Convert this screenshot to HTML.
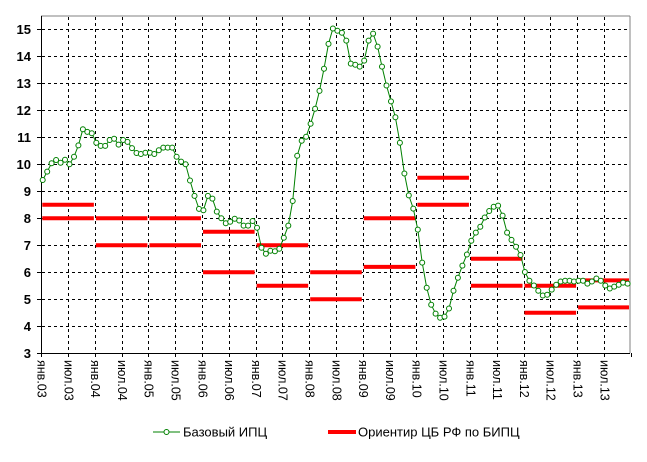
<!DOCTYPE html>
<html><head><meta charset="utf-8"><style>
body{margin:0;background:#fff;}
svg{display:block;font-family:"Liberation Sans",Arial,sans-serif;}
</style></head><body>
<svg id="s" width="647" height="462" viewBox="0 0 647 462" xmlns="http://www.w3.org/2000/svg">
<rect width="647" height="462" fill="#fff"/>
<g id="grid" stroke="#000" stroke-width="1" stroke-dasharray="3,3"></g>
<line x1="41" y1="16" x2="630" y2="16" stroke="#808080"/>
<line x1="630" y1="16" x2="630" y2="353" stroke="#808080"/>
<line x1="41.5" y1="16" x2="41.5" y2="354" stroke="#000"/>
<line x1="41" y1="353.5" x2="630" y2="353.5" stroke="#000"/>
<g id="ticks" stroke="#000"></g>
<g font-size="13" font-weight="bold" text-anchor="end" fill="#000">
<text x="31" y="34">15</text><text x="31" y="61">14</text><text x="31" y="88">13</text>
<text x="31" y="115">12</text><text x="31" y="142">11</text><text x="31" y="169">10</text>
<text x="31" y="196">9</text><text x="31" y="223">8</text><text x="31" y="250">7</text>
<text x="31" y="277">6</text><text x="31" y="304">5</text><text x="31" y="331">4</text>
<text x="31" y="358">3</text>
</g>
<g id="xl" font-size="12.5" fill="#000">
<text transform="translate(37.5,360) rotate(90)">янв.03</text>
<text transform="translate(64.3,360) rotate(90)">июл.03</text>
<text transform="translate(91.1,360) rotate(90)">янв.04</text>
<text transform="translate(117.9,360) rotate(90)">июл.04</text>
<text transform="translate(144.7,360) rotate(90)">янв.05</text>
<text transform="translate(171.5,360) rotate(90)">июл.05</text>
<text transform="translate(198.3,360) rotate(90)">янв.06</text>
<text transform="translate(225.1,360) rotate(90)">июл.06</text>
<text transform="translate(251.9,360) rotate(90)">янв.07</text>
<text transform="translate(278.7,360) rotate(90)">июл.07</text>
<text transform="translate(305.5,360) rotate(90)">янв.08</text>
<text transform="translate(332.3,360) rotate(90)">июл.08</text>
<text transform="translate(359.1,360) rotate(90)">янв.09</text>
<text transform="translate(385.9,360) rotate(90)">июл.09</text>
<text transform="translate(412.7,360) rotate(90)">янв.10</text>
<text transform="translate(439.5,360) rotate(90)">июл.10</text>
<text transform="translate(466.3,360) rotate(90)">янв.11</text>
<text transform="translate(493.1,360) rotate(90)">июл.11</text>
<text transform="translate(519.9,360) rotate(90)">янв.12</text>
<text transform="translate(546.7,360) rotate(90)">июл.12</text>
<text transform="translate(573.5,360) rotate(90)">янв.13</text>
<text transform="translate(600.3,360) rotate(90)">июл.13</text>
</g>
<g id="red" stroke="#ff0000" stroke-width="4"></g>
<polyline id="gl" fill="none" stroke="#008000" stroke-width="1"/>
<g id="mk" fill="#fff" stroke="#008000" stroke-width="1"></g>
<line x1="153" y1="432" x2="180" y2="432" stroke="#008000"/>
<circle cx="166.5" cy="432" r="2.5" fill="#fff" stroke="#008000"/>
<text x="183" y="436.5" font-size="13">Базовый ИПЦ</text>
<line x1="328" y1="432" x2="356" y2="432" stroke="#ff0000" stroke-width="4"/>
<text x="358" y="436.5" font-size="13">Ориентир ЦБ РФ по БИПЦ</text>
</svg>
<script>
var NS="http://www.w3.org/2000/svg";
function el(p,t,a){var e=document.createElementNS(NS,t);for(var k in a)e.setAttribute(k,a[k]);document.getElementById(p).appendChild(e);return e;}
function Y(v){return 353.3-27*(v-3);}
var mw=4.465,x0=41.3;
for(var v=4;v<=15;v++)el("grid","line",{x1:42,x2:630,y1:Math.round(Y(v))+0.5,y2:Math.round(Y(v))+0.5});
for(var h=1;h<22;h++){var x=Math.round(x0+h*6*mw)+0.5;el("grid","line",{x1:x,x2:x,y1:17,y2:353});}
for(var h=0;h<=22;h++){var x=Math.round(x0+h*6*mw)+0.5;el("ticks","line",{x1:x,x2:x,y1:353,y2:357});}
for(var v=3;v<=15;v++){var y=Math.round(Y(v))+0.5;el("ticks","line",{x1:37,x2:41,y1:y,y2:y});}
var R=[[8.5,8],[8,7],[8,7],[7.5,6],[7,5.5],[6,5],[8,6.2],[9.5,8.5],[6.5,5.5],[5.5,4.5],[5.7,4.7]];
R.forEach(function(r,k){var a=x0+k*12*mw+1,b=x0+(k+1)*12*mw-1;if(b>629)b=629;r.forEach(function(v){el("red","line",{x1:a,x2:b,y1:Y(v),y2:Y(v)});});});
var D=[9.42,9.73,10.04,10.16,10.06,10.17,10.0,10.28,10.7,11.3,11.2,11.15,
10.8,10.68,10.68,10.9,10.95,10.73,10.9,10.83,10.6,10.42,10.38,10.43,
10.43,10.38,10.52,10.62,10.62,10.62,10.28,10.1,10.0,9.4,8.83,8.35,
8.3,8.83,8.73,8.25,8.0,7.82,7.87,7.98,7.92,7.73,7.73,7.9,
7.65,6.91,6.69,6.8,6.78,6.87,7.28,7.73,8.64,10.32,10.87,11.02,
11.5,12.06,12.72,13.54,14.46,15.03,14.95,14.87,14.58,13.73,13.69,13.62,
13.84,14.58,14.84,14.36,13.62,12.92,12.33,11.74,10.8,9.66,8.85,8.36,
7.58,6.36,5.43,4.8,4.47,4.32,4.36,4.66,5.32,5.8,6.25,6.66,
7.17,7.47,7.69,8.03,8.27,8.43,8.47,8.1,7.47,7.2,6.95,6.64,
6.01,5.69,5.51,5.32,5.14,5.17,5.36,5.54,5.66,5.69,5.69,5.66,
5.69,5.69,5.58,5.66,5.77,5.69,5.51,5.4,5.47,5.54,5.62,5.58];
var pts=[];D.forEach(function(v,i){var x=42.7+mw*i,y=Y(v);pts.push(x.toFixed(1)+","+y.toFixed(1));el("mk","circle",{cx:x.toFixed(1),cy:y.toFixed(1),r:2.5});});
document.getElementById("gl").setAttribute("points",pts.join(" "));
</script>
</body></html>
